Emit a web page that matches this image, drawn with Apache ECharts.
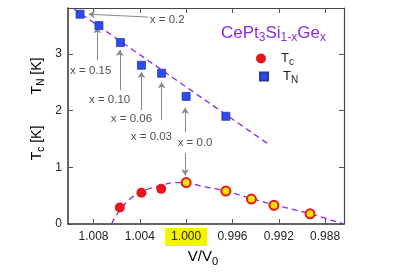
<!DOCTYPE html>
<html><head><meta charset="utf-8">
<script src="https://cdn.jsdelivr.net/npm/echarts@6/dist/echarts.min.js"></script>
<style>html,body{margin:0;padding:0;background:#fff}#c{width:409px;height:273px}</style>
</head><body><div id="c"></div>
<script>
const tnVolume = [1.00916, 1.00753, 1.00567, 1.00386, 1.00212, 1.0000, 0.99657];
const tnValue = [3.70, 3.50, 3.20, 2.80, 2.66, 2.25, 1.90];
const tcRedVolume = [1.00573, 1.00386, 1.00215];
const tcRedValue = [0.29, 0.55, 0.62];
const tcYellowVolume = [1.0000, 0.99657, 0.99436, 0.99242, 0.98930];
const tcYellowValue = [0.73, 0.58, 0.44, 0.33, 0.18];
const tnFitVolume = [1.00973, 0.99290];
const tnFitValue = [3.80, 1.41];
const tcFitVolume = [1.00644, 1.00611, 1.00497, 1.00386, 1.00215, 1.00100, 1.0000, 0.99871, 0.99657, 0.99436, 0.99242, 0.98930, 0.98637];
const tcFitValue = [0, 0.13, 0.42, 0.57, 0.68, 0.73, 0.73, 0.67, 0.58, 0.45, 0.34, 0.18, 0];
const xTicks = [1.008, 1.004, 1.000, 0.996, 0.992, 0.988];
const yTicks = [0, 1, 2, 3];
const annotLabels = ['x = 0.2', 'x = 0.15', 'x = 0.10', 'x = 0.06', 'x = 0.03', 'x = 0.0'];
const annotVolume = [1.00163, 1.00824, 1.00661, 1.00472, 1.00300, 0.99923];
const annotValue = [3.60, 2.70, 2.19, 1.85, 1.53, 1.43];
const arrowFrom = [[1.00326, 3.65], [1.00767, 2.89], [1.00573, 2.36], [1.00386, 2.01], [1.00212, 1.83], [1.00009, 1.62], [1.00009, 1.25]];
const arrowTo = [[1.00841, 3.70], [1.00767, 3.47], [1.00573, 3.07], [1.00386, 2.68], [1.00212, 2.50], [1.00009, 2.05], [1.00009, 0.86]];

const FONT = 'Liberation Sans';
const PURPLE = '#8a2be2';
const zip = (a, b) => a.map((v, i) => [v, b[i]]);
const chart = echarts.init(document.getElementById('c'), null, {renderer: 'canvas'});
const X_MIN = 0.98637, X_MAX = 1.0102, Y_MIN = 0, Y_MAX = 3.81;
const axisCommon = {
  type: 'value',
  axisLine: {show: true, onZero: false, lineStyle: {color: '#333', width: 1.5}},
  splitLine: {show: false},
  axisTick: {show: true, inside: true, length: 5, lineStyle: {color: '#555'}}
};
const subRich = {
  m: {fontFamily: FONT, fontSize: 14, color: '#222'},
  s: {fontFamily: FONT, fontSize: 10, color: '#222', padding: [8, 0, 0, 0]}
};
const legendRich = {
  m: {fontFamily: FONT, fontSize: 13, color: '#222'},
  s: {fontFamily: FONT, fontSize: 10, color: '#222', padding: [7, 0, 0, 0]}
};
chart.setOption({
  animation: false,
  grid: {left: 68, right: 65, top: 8, bottom: 49},
  title: {
    text: '{m|CePt}{s|3}{m|Si}{s|1-x}{m|Ge}{s|x}',
    left: 221, top: 23, padding: 0,
    textStyle: {fontWeight: 'normal', rich: {
      m: {fontFamily: FONT, fontSize: 17, fontWeight: 'normal', color: PURPLE},
      s: {fontFamily: FONT, fontSize: 12, fontWeight: 'normal', color: PURPLE, padding: [9, 0, 0, 0]}
    }}
  },
  legend: [
    {orient: 'vertical', left: 256, top: 52, padding: 0, itemWidth: 10, itemHeight: 10,
      data: [{name: 'Tc', icon: 'circle'}],
      formatter: () => '{m|T}{s|c}',
      textStyle: {padding: [0, 0, 0, 10], rich: legendRich}},
    {orient: 'vertical', left: 259, top: 70, padding: 0, itemWidth: 8, itemHeight: 8,
      data: [{name: 'TN', icon: 'rect'}],
      formatter: () => '{m|T}{s|N}',
      textStyle: {padding: [0, 0, 0, 10], rich: legendRich}}
  ],
  xAxis: [
    Object.assign({}, axisCommon, {
      min: X_MIN, max: X_MAX, inverse: true, position: 'bottom',
      axisTick: Object.assign({}, axisCommon.axisTick, {customValues: xTicks}),
      axisLabel: {
        customValues: xTicks, margin: 4,
        formatter: v => Math.abs(v - 1) < 1e-9 ? '{h|' + v.toFixed(3) + '}' : '{n|' + v.toFixed(3) + '}',
        rich: {
          n: {fontFamily: FONT, fontSize: 12, color: '#222', padding: [3, 6, 3, 6]},
          h: {fontFamily: FONT, fontSize: 12, color: '#222', padding: [3, 6, 3, 6], backgroundColor: '#f4f400'}
        }
      }
    }),
    Object.assign({}, axisCommon, {
      min: X_MIN, max: X_MAX, inverse: true, position: 'top',
      axisLine: {show: true, onZero: false, lineStyle: {color: '#444', width: 1.2}},
      axisTick: Object.assign({}, axisCommon.axisTick, {customValues: xTicks}),
      axisLabel: {show: false}
    })
  ],
  yAxis: [
    Object.assign({}, axisCommon, {
      min: Y_MIN, max: Y_MAX, position: 'left',
      axisTick: Object.assign({}, axisCommon.axisTick, {customValues: yTicks}),
      axisLabel: {customValues: yTicks, margin: 6, fontFamily: FONT, fontSize: 12, color: '#222'}
    }),
    Object.assign({}, axisCommon, {
      min: Y_MIN, max: Y_MAX, position: 'right',
      axisLine: {show: true, onZero: false, lineStyle: {color: '#444', width: 1.2}},
      axisTick: Object.assign({}, axisCommon.axisTick, {customValues: yTicks}),
      axisLabel: {show: false}
    })
  ],
  graphic: [
    {type: 'text', x: 37, y: 76, rotation: Math.PI / 2,
      style: {text: '{m|T}{s|N}{m| [K]}', align: 'center', verticalAlign: 'middle', rich: subRich}},
    {type: 'text', x: 37, y: 143, rotation: Math.PI / 2,
      style: {text: '{m|T}{s|c}{m| [K]}', align: 'center', verticalAlign: 'middle', rich: subRich}},
    {type: 'text', x: 203, y: 257,
      style: {text: '{m|V/V}{s|0}', align: 'center', verticalAlign: 'middle', rich: {
        m: {fontFamily: FONT, fontSize: 15, color: '#222'},
        s: {fontFamily: FONT, fontSize: 11, color: '#222', padding: [9, 0, 0, 0]}
      }}}
  ],
  series: [
    {type: 'line', name: 'TNfit', data: zip(tnFitVolume, tnFitValue), showSymbol: false, z: 1,
      lineStyle: {color: PURPLE, width: 1.3, type: [6, 4]}},
    {type: 'line', name: 'Tcfit', data: zip(tcFitVolume, tcFitValue), showSymbol: false, smooth: 0.4, z: 1,
      lineStyle: {color: PURPLE, width: 1.3, type: [6, 4]}},
    {type: 'scatter', name: 'annot', data: zip(annotVolume, annotValue), symbolSize: 0, z: 3,
      label: {show: true, position: 'inside', formatter: p => annotLabels[p.dataIndex],
        fontFamily: FONT, fontSize: 11.5, color: '#222'},
      markLine: {silent: true, symbol: ['none', 'arrow'], symbolSize: 6,
        label: {show: false},
        lineStyle: {color: '#888', width: 1, type: 'solid'},
        data: arrowFrom.map((f, i) => [{coord: f}, {coord: arrowTo[i]}])}},
    {type: 'scatter', name: 'TN', data: zip(tnVolume, tnValue), symbol: 'rect', symbolSize: 8, z: 5,
      itemStyle: {color: '#2b4cf0', borderColor: '#2a3a9a', borderWidth: 0.8, opacity: 1}},
    {type: 'scatter', name: 'Tc', data: zip(tcRedVolume, tcRedValue), symbol: 'circle', symbolSize: 10, z: 5,
      itemStyle: {color: '#e8151c', opacity: 1}},
    {type: 'scatter', name: 'Tc', data: zip(tcYellowVolume, tcYellowValue), symbol: 'circle', symbolSize: 9, z: 5,
      itemStyle: {color: '#f2e600', borderColor: '#e8151c', borderWidth: 2, opacity: 1}}
  ]
});
</script></body></html>
